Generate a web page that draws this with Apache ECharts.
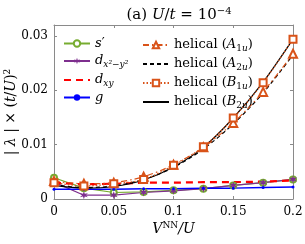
<!DOCTYPE html>
<html><head><meta charset="utf-8">
<script src="https://cdn.jsdelivr.net/npm/echarts@6/dist/echarts.min.js"></script>
<style>html,body{margin:0;padding:0;background:#fff}#c{width:305px;height:244px}</style>
</head><body><div id="c"></div>
<script>
const xVals = [0, 0.025, 0.05, 0.075, 0.1, 0.125, 0.15, 0.175, 0.2];
const sPrime = [0.0039, 0.0020, 0.0012, 0.0013, 0.0016, 0.0019, 0.0025, 0.0030, 0.0036];
const dx2y2 = [0.0031, 0.0007, 0.0007, 0.0012, 0.0015, 0.0019, 0.0025, 0.0030, 0.0036];
const dxy = [0.0030, 0.0027, 0.0028, 0.0030, 0.0030, 0.0031, 0.0031, 0.0032, 0.0034];
const gWave = [0.0018, 0.0018, 0.0018, 0.0019, 0.0019, 0.0020, 0.0020, 0.0021, 0.0022];
const helA1u = [0.0033, 0.0028, 0.0030, 0.0041, 0.0063, 0.0095, 0.0140, 0.0197, 0.0267];
const helA2u = [0.0026, 0.0021, 0.0024, 0.0036, 0.0058, 0.0092, 0.0138, 0.0195, 0.0265];
const helB1u = [0.0030, 0.0024, 0.0028, 0.0036, 0.0062, 0.0096, 0.0149, 0.0214, 0.0294];
const helB2u = [0.0025, 0.0020, 0.0023, 0.0035, 0.0059, 0.0095, 0.0149, 0.0215, 0.0294];
const xTicks = [0, 0.05, 0.1, 0.15, 0.2];
const yTicks = [0, 0.01, 0.02, 0.03];

const pairs = arr => xVals.map((x, i) => [x, arr[i]]);
const FONT = 'DejaVu Serif';
const star = 'path://M0,-1L0.2,-0.346L0.866,-0.5L0.4,0L0.866,0.5L0.2,0.346L0,1L-0.2,0.346L-0.866,0.5L-0.4,0L-0.866,-0.5L-0.2,-0.346Z';

const rich = {
  i: {fontFamily: FONT, fontStyle: 'italic', fontSize: 13, lineHeight: 16, color: '#000'},
  n: {fontFamily: FONT, fontSize: 13, lineHeight: 16, color: '#000'},
  sub: {fontFamily: FONT, fontStyle: 'italic', fontSize: 9, lineHeight: 10, color: '#000', padding: [7, 0, 0, 0]},
  subn: {fontFamily: FONT, fontSize: 9, lineHeight: 10, color: '#000', padding: [7, 0, 0, 0]}
};
const labelMap = {
  "s'": "{i|s}{n|′}",
  "dx2": "{i|d}{sub|x²−y²}",
  "dxy": "{i|d}{sub|xy}",
  "g": "{i|g}",
  "A1u": "{n|helical (}{i|A}{subn|1}{sub|u}{n|)}",
  "A2u": "{n|helical (}{i|A}{subn|2}{sub|u}{n|)}",
  "B1u": "{n|helical (}{i|B}{subn|1}{sub|u}{n|)}",
  "B2u": "{n|helical (}{i|B}{subn|2}{sub|u}{n|)}"
};

const orange = '#D95319';
const tickFmt = v => String(+v.toFixed(4));
const axisCommon = {
  type: 'value',
  axisLine: {show: true, onZero: false, lineStyle: {color: '#8a8a8a', width: 1}},
  axisTick: {show: true, inside: true, length: 3, lineStyle: {color: '#8a8a8a'}},
  splitLine: {show: false}
};
const legendCommon = {
  orient: 'vertical', top: 32, itemWidth: 26, itemHeight: 8, itemGap: 3,
  formatter: n => labelMap[n], textStyle: {rich: rich, fontFamily: FONT, fontSize: 13}
};

const chart = echarts.init(document.getElementById('c'), null, {renderer: 'canvas'});
chart.setOption({
  animation: false,
  backgroundColor: '#fff',
  title: {
    text: '{n|(a) }{i|U}{n|/}{i|t}{n| = 10}{sup|−4}',
    left: 174, textAlign: 'center', top: 1,
    textStyle: {fontWeight: 'normal', rich: {
      n: {fontFamily: FONT, fontSize: 15, fontWeight: 'normal', color: '#000'},
      i: {fontFamily: FONT, fontSize: 15, fontWeight: 'normal', fontStyle: 'italic', color: '#000'},
      sup: {fontFamily: FONT, fontSize: 10, fontWeight: 'normal', color: '#000', padding: [0, 0, 8, 0]}
    }}
  },
  grid: {left: 54, right: 12, top: 25, bottom: 45, containLabel: false, outerBoundsMode: 'none'},
  legend: [
    Object.assign({}, legendCommon, {left: 58, data: ["s'", 'dx2', {name: 'dxy', itemStyle: {opacity: 0}}, 'g']}),
    Object.assign({}, legendCommon, {left: 137, data: ['A1u', {name: 'A2u', itemStyle: {opacity: 0}}, 'B1u', {name: 'B2u', itemStyle: {opacity: 0}}]})
  ],
  xAxis: [
    Object.assign({}, axisCommon, {
      min: 0, max: 0.2, interval: 0.05, position: 'bottom',
      name: '{i|V}{sup|NN}{i|/U}', nameLocation: 'middle', nameGap: 22, nameMoveOverlap: false,
      nameTextStyle: {rich: {
        i: {fontFamily: FONT, fontSize: 14, fontStyle: 'italic', color: '#000'},
        sup: {fontFamily: FONT, fontSize: 9, color: '#000', padding: [0, 0, 8, 0]}
      }},
      axisLabel: {fontFamily: FONT, fontSize: 12, color: '#000', margin: 7, formatter: tickFmt}
    }),
    Object.assign({}, axisCommon, {
      min: 0, max: 0.2, interval: 0.05, position: 'top', axisLabel: {show: false}
    })
  ],
  yAxis: [
    Object.assign({}, axisCommon, {
      min: 0, max: 0.032, interval: 0.01, position: 'left',
      name: '{n|| }{i|λ}{n| | × (}{i|t}{n|/}{i|U}{n|)}{sup|2}', nameLocation: 'middle', nameGap: 34, nameMoveOverlap: false,
      nameTextStyle: {rich: {
        n: {fontFamily: FONT, fontSize: 14, color: '#000'},
        i: {fontFamily: FONT, fontSize: 14, fontStyle: 'italic', color: '#000'},
        sup: {fontFamily: FONT, fontSize: 9, color: '#000', padding: [0, 0, 8, 0]}
      }},
      axisLabel: {fontFamily: FONT, fontSize: 12, color: '#000', margin: 6, showMaxLabel: false, formatter: tickFmt}
    }),
    Object.assign({}, axisCommon, {
      min: 0, max: 0.032, interval: 0.01, position: 'right', axisLabel: {show: false}
    })
  ],
  series: [
    {name: "s'", type: 'line', data: pairs(sPrime), symbol: 'emptyCircle', symbolSize: 6,
     lineStyle: {color: '#77AC30', width: 1.2}, itemStyle: {color: '#77AC30', borderWidth: 1.2}},
    {name: 'dx2', type: 'line', data: pairs(dx2y2), symbol: star, symbolSize: 8,
     lineStyle: {color: '#7E2F8E', width: 1.2}, itemStyle: {color: '#7E2F8E'}},
    {name: 'dxy', type: 'line', data: pairs(dxy), symbol: 'none', showSymbol: false,
     lineStyle: {color: '#FF0000', width: 2.2, type: [7, 5]}, itemStyle: {color: '#FF0000'}},
    {name: 'g', type: 'line', data: pairs(gWave), symbol: 'circle', symbolSize: 3,
     lineStyle: {color: '#0000FF', width: 1.5}, itemStyle: {color: '#0000FF'}},
    {name: 'A2u', type: 'line', data: pairs(helA2u), symbol: 'none', showSymbol: false, smooth: 0.3,
     lineStyle: {color: '#000', width: 1.2, type: [4, 3]}, itemStyle: {color: '#000'}},
    {name: 'B2u', type: 'line', data: pairs(helB2u), symbol: 'none', showSymbol: false, smooth: 0.3,
     lineStyle: {color: '#000', width: 1.2}, itemStyle: {color: '#000'}},
    {name: 'A1u', type: 'line', data: pairs(helA1u), symbol: 'emptyTriangle', symbolSize: 8, smooth: 0.3,
     lineStyle: {color: orange, width: 1.2, type: [6, 3, 1.5, 3]}, itemStyle: {color: orange, borderWidth: 1.3}},
    {name: 'B1u', type: 'line', data: pairs(helB1u), symbol: 'emptyRect', symbolSize: 7, smooth: 0.3,
     lineStyle: {color: orange, width: 1.2, type: [1.5, 2]}, itemStyle: {color: orange, borderWidth: 1.3}}
  ]
});
</script></body></html>
